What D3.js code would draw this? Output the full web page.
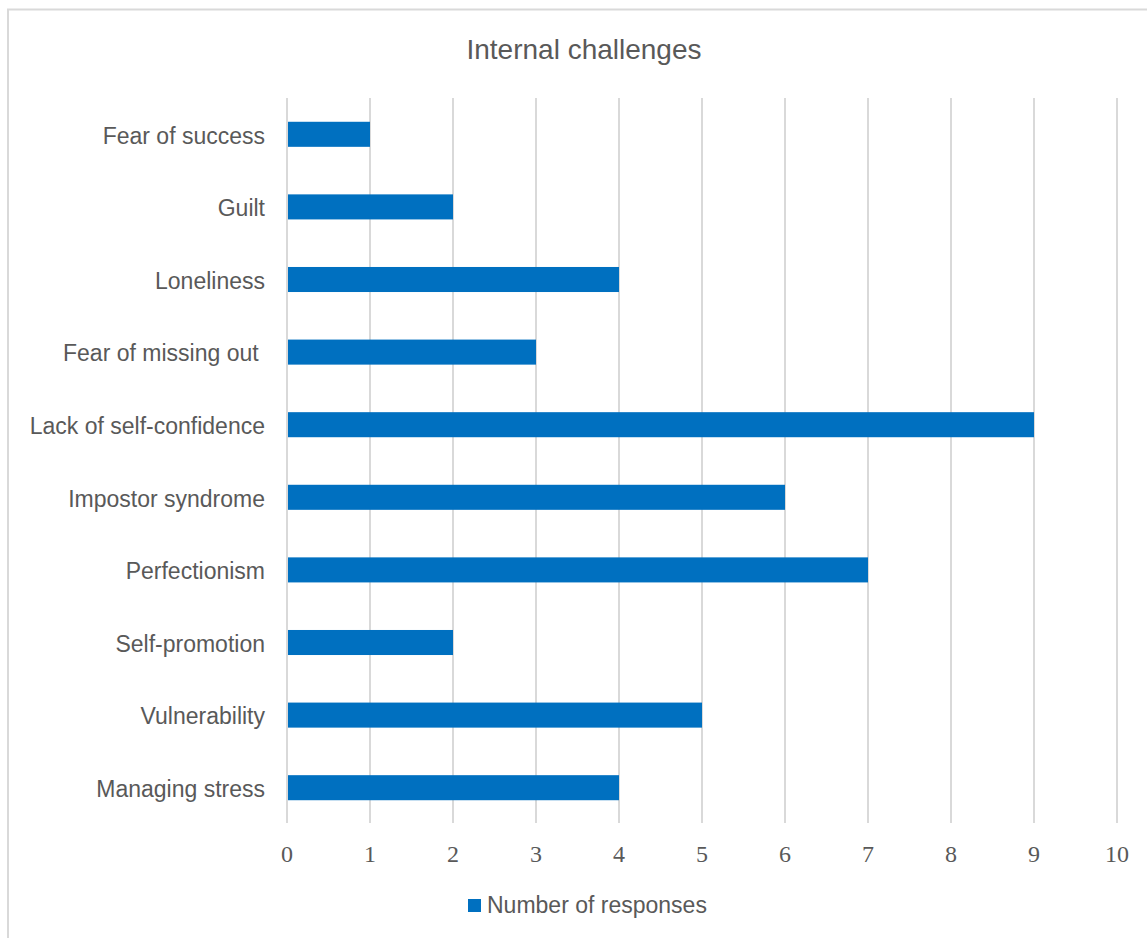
<!DOCTYPE html>
<html>
<head>
<meta charset="utf-8">
<script src="https://cdn.jsdelivr.net/npm/d3@7"></script>
<style>
  html, body { margin: 0; padding: 0; background: #fff; }
  svg { display: block; }
  .cat-label { white-space: pre; }
</style>
</head>
<body>
<svg id="chart"></svg>
<script>
// categories top to bottom
const categories = [
  "Fear of success",
  "Guilt",
  "Loneliness",
  "Fear of missing out ",
  "Lack of self-confidence",
  "Impostor syndrome",
  "Perfectionism",
  "Self-promotion",
  "Vulnerability",
  "Managing stress"
];
const responses = [1, 2, 4, 3, 9, 6, 7, 2, 5, 4];
const xTicks = [0, 1, 2, 3, 4, 5, 6, 7, 8, 9, 10];
const seriesName = "Number of responses";
const chartTitle = "Internal challenges";

const width = 1147, height = 938;
const margin = { top: 98, left: 287, right: 30, bottom: 114 };
const barColor = "#0070c0";
const textColor = "#595959";
const gridColor = "#d9d9d9";
const sans = "'Liberation Sans', Arial, sans-serif";

const svg = d3.select("#chart").attr("width", width).attr("height", height);

// outer frame (only top and left edges show in the picture)
svg.append("rect")
  .attr("x", 8).attr("y", 9.5)
  .attr("width", width + 20).attr("height", height + 20)
  .attr("fill", "none")
  .attr("stroke", gridColor)
  .attr("stroke-width", 2);

const x = d3.scaleLinear().domain([0, 10]).range([margin.left, 1117]);
const y = d3.scaleBand()
  .domain(categories)
  .range([margin.top, 824])
  .paddingInner(0.655)
  .paddingOuter(0.3275);

// gridlines
svg.append("g")
  .selectAll("line")
  .data(xTicks)
  .join("line")
  .attr("x1", d => x(d)).attr("x2", d => x(d))
  .attr("y1", margin.top).attr("y2", 823)
  .attr("stroke", gridColor)
  .attr("stroke-width", 2);

// bars
svg.append("g")
  .selectAll("rect")
  .data(categories)
  .join("rect")
  .attr("x", x(0) + 1)
  .attr("y", d => y(d))
  .attr("width", (d, i) => x(responses[i]) - x(0) - 1)
  .attr("height", y.bandwidth())
  .attr("fill", barColor);

// category labels (keep trailing space of "Fear of missing out ")
svg.append("g")
  .selectAll("text")
  .data(categories)
  .join("text")
  .attr("class", "cat-label")
  .attr("x", 265)
  .attr("y", d => y(d) + y.bandwidth() / 2)
  .attr("dy", "0.4em")
  .attr("text-anchor", "end")
  .attr("font-family", sans)
  .attr("font-size", 23)
  .attr("fill", textColor)
  .text(d => d);

// x tick labels
svg.append("g")
  .selectAll("text")
  .data(xTicks)
  .join("text")
  .attr("x", d => x(d))
  .attr("y", 862)
  .attr("text-anchor", "middle")
  .attr("font-family", "'Liberation Serif', 'DejaVu Serif', serif")
  .attr("font-size", 24)
  .attr("fill", textColor)
  .text(d => d);

// title
svg.append("text")
  .attr("x", 584)
  .attr("y", 59)
  .attr("text-anchor", "middle")
  .attr("font-family", sans)
  .attr("font-size", 28)
  .attr("fill", textColor)
  .text(chartTitle);

// legend
const legend = svg.append("g").attr("transform", "translate(468,899)");
legend.append("rect")
  .attr("width", 13).attr("height", 13)
  .attr("fill", barColor);
legend.append("text")
  .attr("x", 19)
  .attr("y", 14)
  .attr("font-family", sans)
  .attr("font-size", 23)
  .attr("fill", textColor)
  .text(seriesName);
</script>
</body>
</html>
